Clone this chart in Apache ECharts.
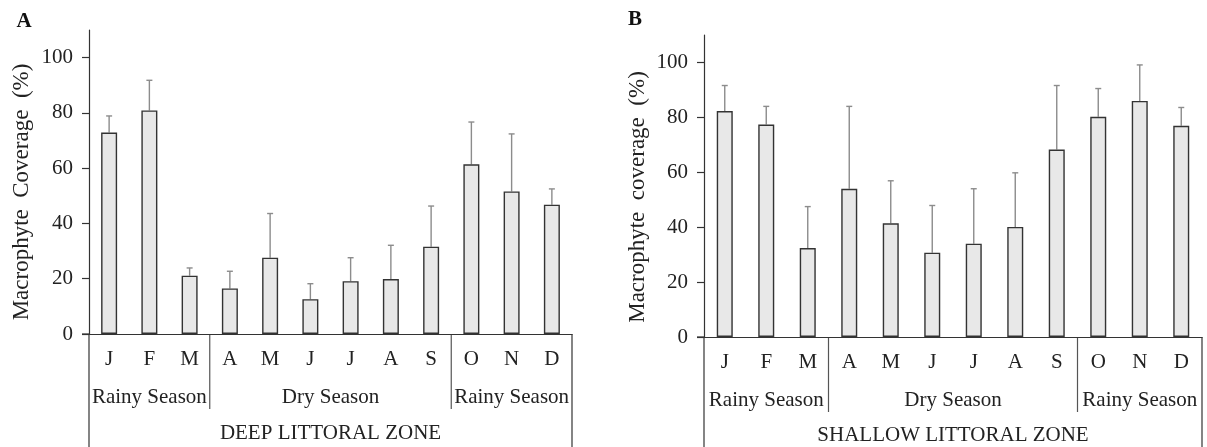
<!DOCTYPE html>
<html><head><meta charset="utf-8">
<script src="https://cdn.jsdelivr.net/npm/echarts@6/dist/echarts.min.js"></script>
<style>html,body{margin:0;padding:0;background:#fff}#c{width:1207px;height:447px}</style>
</head><body><div id="c"></div>
<script>
const months = ['J','F','M','A','M','J','J','A','S','O','N','D'];
const deepMean = [72.9, 80.9, 21.1, 16.5, 27.6, 12.6, 19.1, 19.9, 31.6, 61.4, 51.6, 46.8];
const deepSD   = [6.0, 10.9, 2.8, 6.2, 16.0, 5.6, 8.5, 12.2, 14.7, 15.3, 20.8, 5.7];
const shallowMean = [82.3, 77.4, 32.4, 54.0, 41.4, 30.7, 34.0, 40.1, 68.3, 80.2, 86.0, 76.9];
const shallowSD   = [9.3, 6.6, 15.1, 30.0, 15.5, 17.2, 20.0, 19.7, 23.3, 10.3, 13.1, 6.7];
const yTicks = [0, 20, 40, 60, 80, 100];
const seasonNames = ['Rainy Season', 'Dry Season', 'Rainy Season'];
const seasonStart = [0, 3, 9];
const seasonEnd = [2, 8, 11];
const zoneNames = ['DEEP LITTORAL ZONE', 'SHALLOW LITTORAL ZONE'];
const panelLetters = ['A', 'B'];
const yTitles = ['Macrophyte  Coverage  (%)', 'Macrophyte  coverage  (%)'];

const FONT = "'Liberation Serif', 'Times New Roman', serif";
const chart = echarts.init(document.getElementById('c'), null, {renderer: 'canvas'});

const grids = [
  {left: 89, top: 30, width: 483, height: 304},
  {left: 704, top: 35, width: 498, height: 302}
];

function xAx(i) {
  return {
    type: 'category', gridIndex: i, data: months,
    axisLine: {show: true, lineStyle: {color: '#333', width: 1.2}},
    axisTick: {show: false},
    axisLabel: {fontFamily: FONT, fontSize: 21, color: '#222', margin: 15}
  };
}
function yAx(i) {
  return {
    type: 'value', gridIndex: i, min: 0, max: 110, interval: 10,
    splitLine: {show: false},
    axisLine: {show: true, lineStyle: {color: '#333', width: 1.2}},
    axisTick: {show: true, length: 7, customValues: yTicks, lineStyle: {color: '#333', width: 1.2}},
    axisLabel: {fontFamily: FONT, fontSize: 21, color: '#222', margin: 16, customValues: yTicks}
  };
}
function errSeries(i, mean, sd) {
  return {
    type: 'custom', xAxisIndex: i, yAxisIndex: i, z: 1,
    data: mean.map((m, k) => [k, m, m + sd[k]]),
    renderItem: function (params, api) {
      const base = api.coord([api.value(0), api.value(1)]);
      const top = api.coord([api.value(0), api.value(2)]);
      const st = {stroke: '#8c8c8c', lineWidth: 1.4};
      return {type: 'group', children: [
        {type: 'line', shape: {x1: base[0], y1: base[1], x2: top[0], y2: top[1]}, style: st},
        {type: 'line', shape: {x1: top[0] - 3, y1: top[1], x2: top[0] + 3, y2: top[1]}, style: st}
      ]};
    }
  };
}
function barSeries(i, mean) {
  return {
    type: 'bar', xAxisIndex: i, yAxisIndex: i, data: mean, barWidth: 16, z: 2,
    itemStyle: {color: '#e8e8e8', borderColor: '#333', borderWidth: 1.4},
    silent: true
  };
}

chart.setOption({
  animation: false,
  grid: grids,
  xAxis: [xAx(0), xAx(1)],
  yAxis: [yAx(0), yAx(1)],
  series: [errSeries(0, deepMean, deepSD), barSeries(0, deepMean),
           errSeries(1, shallowMean, shallowSD), barSeries(1, shallowMean)]
});

// decorations computed from the axes
const g = [];
const lineStyle = {stroke: '#333', lineWidth: 1.2};
const sepStyle = {stroke: '#555', lineWidth: 1.2};
const BOTTOM = 447;
const titleX = [22, 638], titleY = [192, 197];
const letterPos = [[24, 22], [635, 20]];
const seasonY = [397, 400], zoneY = [433, 435];
for (let p = 0; p < 2; p++) {
  const c0 = chart.convertToPixel({gridIndex: p}, [0, 0]);
  const c1 = chart.convertToPixel({gridIndex: p}, [1, 0]);
  const bw = c1[0] - c0[0];
  const axisY = c0[1];
  const left = c0[0] - bw / 2;
  const right = left + bw * months.length;
  g.push({type: 'line', shape: {x1: left, y1: axisY, x2: left, y2: BOTTOM}, style: lineStyle});
  g.push({type: 'line', shape: {x1: right, y1: axisY, x2: right, y2: BOTTOM}, style: lineStyle});
  g.push({type: 'line', shape: {x1: left - 7, y1: axisY, x2: left, y2: axisY}, style: lineStyle});
  for (let s = 0; s < seasonNames.length; s++) {
    const x0 = left + bw * seasonStart[s];
    const x1 = left + bw * (seasonEnd[s] + 1);
    if (s > 0) g.push({type: 'line', shape: {x1: x0, y1: axisY, x2: x0, y2: seasonY[p] + 12}, style: sepStyle});
    g.push({type: 'text', x: (x0 + x1) / 2, y: seasonY[p],
      style: {text: seasonNames[s], font: '21px ' + FONT, fill: '#222', align: 'center', verticalAlign: 'middle'}});
  }
  g.push({type: 'text', x: (left + right) / 2, y: zoneY[p],
    style: {text: zoneNames[p], font: '21px ' + FONT, fill: '#222', align: 'center', verticalAlign: 'middle'}});
  g.push({type: 'text', x: titleX[p], y: titleY[p], rotation: Math.PI / 2,
    style: {text: yTitles[p], font: '23px ' + FONT, fill: '#222', align: 'center', verticalAlign: 'middle'}});
  g.push({type: 'text', x: letterPos[p][0], y: letterPos[p][1],
    style: {text: panelLetters[p], font: 'bold 21px ' + FONT, fill: '#111', align: 'center', verticalAlign: 'middle'}});
}
chart.setOption({graphic: g});
</script></body></html>
